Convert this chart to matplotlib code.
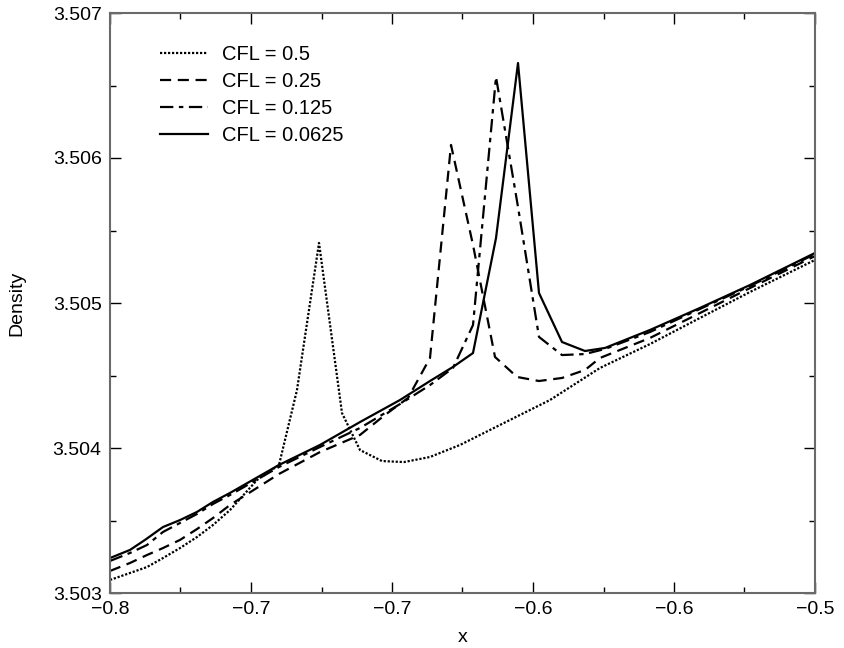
import numpy as np
import matplotlib
matplotlib.use("Agg")
import matplotlib.pyplot as plt
from matplotlib.ticker import FixedLocator, MultipleLocator, FuncFormatter

plt.rcParams['font.family'] = ['Liberation Sans', 'DejaVu Sans']

# CFL = 0.5 (dotted)
x_05 = [-0.8, -0.79149, -0.78426, -0.77745, -0.77021, -0.76298, -0.75617, -0.74894,
        -0.73745, -0.72809, -0.72043, -0.71106, -0.70128, -0.69362, -0.68426, -0.67489,
        -0.66383, -0.65106, -0.63404, -0.61277, -0.59149, -0.57021, -0.54894, -0.52766, -0.5]
y_05 = [3.503090, 3.503138, 3.503179, 3.503241, 3.503310, 3.503386, 3.503469, 3.503572,
        3.503779, 3.503883, 3.504400, 3.505414, 3.504241, 3.503986, 3.503910, 3.503903,
        3.503938, 3.504021, 3.504159, 3.504331, 3.504552, 3.504717, 3.504897, 3.505076, 3.505297]

# CFL = 0.25 (dashed)
x_025 = [-0.8, -0.79149, -0.78426, -0.77745, -0.77021, -0.76298, -0.75617, -0.74894,
         -0.72809, -0.71064, -0.69362, -0.68298, -0.67319, -0.66383, -0.65489, -0.64553,
         -0.63617, -0.62681, -0.61745, -0.60766, -0.59787, -0.59149, -0.57021, -0.54894,
         -0.52766, -0.5]
y_025 = [3.503152, 3.503207, 3.503262, 3.503310, 3.503366, 3.503441, 3.503517, 3.503607,
         3.503821, 3.503972, 3.504090, 3.504228, 3.504345, 3.504621, 3.506090, 3.505400,
         3.504628, 3.504490, 3.504462, 3.504483, 3.504538, 3.504621, 3.504759, 3.504931,
         3.505103, 3.505324]

# CFL = 0.125 (dash-dot)
x_0125 = [-0.8, -0.79149, -0.78426, -0.77745, -0.77021, -0.76298, -0.75617, -0.74894,
          -0.72809, -0.71064, -0.69362, -0.67660, -0.66383, -0.65404, -0.64553, -0.63574,
          -0.62638, -0.61745, -0.60766, -0.59787, -0.58936, -0.57021, -0.54894, -0.52766, -0.5]
y_0125 = [3.503221, 3.503276, 3.503331, 3.503421, 3.503483, 3.503545, 3.503614, 3.503676,
          3.503869, 3.504007, 3.504138, 3.504303, 3.504434, 3.504552, 3.504848, 3.506559,
          3.505662, 3.504766, 3.504641, 3.504648, 3.504683, 3.504800, 3.504959, 3.505117, 3.505338]

# CFL = 0.0625 (solid)
x_0625 = [-0.8, -0.79149, -0.78511, -0.77745, -0.77021, -0.76298, -0.75617, -0.74894,
          -0.72809, -0.71064, -0.69362, -0.67660, -0.66383, -0.65404, -0.64553, -0.63574,
          -0.62638, -0.61745, -0.60766, -0.59787, -0.58936, -0.57021, -0.54894, -0.52766, -0.5]
y_0625 = [3.503241, 3.503297, 3.503366, 3.503455, 3.503503, 3.503559, 3.503628, 3.503690,
          3.503883, 3.504021, 3.504179, 3.504331, 3.504462, 3.504559, 3.504655, 3.505448,
          3.506655, 3.505069, 3.504731, 3.504669, 3.504690, 3.504814, 3.504966, 3.505124, 3.505345]

x_ticks = [-0.8, -0.74, -0.68, -0.62, -0.56, -0.5]
x_minor = [-0.77, -0.71, -0.65, -0.59, -0.53]

fig = plt.figure(figsize=(8.45, 6.48), dpi=100)
ax = fig.add_axes([110 / 845, 55 / 648, 705 / 845, 580 / 648])

lw = 1.6
ax.plot(x_05, y_05, color='black', lw=lw, linestyle=(0, (1, 0.8)), label='CFL = 0.5')
ax.plot(x_025, y_025, color='black', lw=lw, linestyle=(0, (5, 3)), label='CFL = 0.25')
ax.plot(x_0125, y_0125, color='black', lw=lw, linestyle=(0, (6, 2.5, 2, 2.5)), label='CFL = 0.125')
ax.plot(x_0625, y_0625, color='black', lw=lw, linestyle='-', label='CFL = 0.0625')

ax.set_xlim(-0.8, -0.5)
ax.set_ylim(3.503, 3.507)
ax.xaxis.set_major_locator(FixedLocator(x_ticks))
ax.xaxis.set_minor_locator(FixedLocator(x_minor))
ax.yaxis.set_major_locator(MultipleLocator(0.001))
ax.yaxis.set_minor_locator(MultipleLocator(0.0005))
ax.xaxis.set_major_formatter(FuncFormatter(lambda v, p: f"{v:.1f}".replace('-', '\u2212')))
ax.yaxis.set_major_formatter(FuncFormatter(lambda v, p: f"{v:.3f}"))
ax.tick_params(which='both', direction='in', top=True, right=True, labelsize=14, pad=6)
ax.tick_params(which='major', length=8, width=1)
ax.tick_params(which='minor', length=4, width=1)
for s in ax.spines.values():
    s.set_color('#6a6a6a')
    s.set_linewidth(1.5)

ax.set_xlabel('x', fontsize=14, labelpad=8)
ax.set_ylabel('Density', fontsize=14, labelpad=20)

ax.legend(loc='upper left', bbox_to_anchor=(160 / 845, 1 - 45 / 648), bbox_transform=fig.transFigure,
          frameon=False, fontsize=14.5, handlelength=2.4, handletextpad=0.7, labelspacing=0.4,
          borderpad=0, borderaxespad=0)

fig.savefig('out.png', dpi=100)
